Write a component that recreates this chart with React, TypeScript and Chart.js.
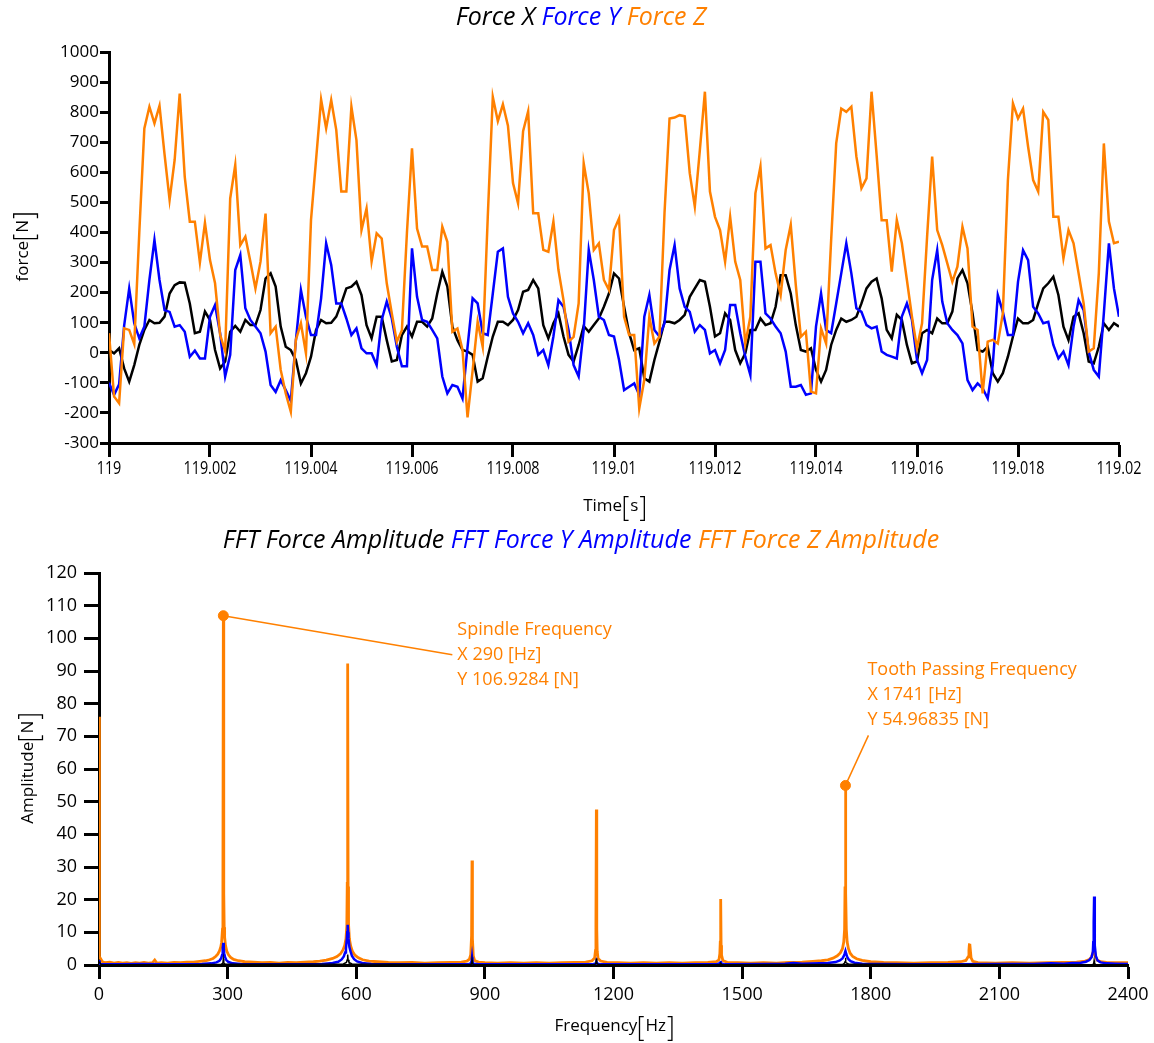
import React, { useEffect, useRef } from "react";
import { Chart, registerables } from "chart.js";

Chart.register(...registerables);

const ORANGE = "#ff8000";
const BLUE = "#0000ff";
const BLACK = "#000000";
const FONT = "'Open Sans', 'DejaVu Sans', sans-serif";

// ---------- time domain data (sampled every 0.1 ms from t = 119 s) ----------
const timeStart = 119;
const timeStep = 0.0001;

const forceX: number[] = [
  9, -2, 15, -52, -96, -41, 26, 76, 109, 98,
  100, 120, 197, 225, 234, 233, 164, 65, 70, 137,
  109, 9, -52, -29, 70, 89, 70, 109, 92, 92,
  142, 247, 264, 220, 87, 20, 9, -24, -102, -68,
  -13, 76, 109, 98, 100, 120, 164, 214, 220, 236,
  192, 92, 48, 120, 120, 42, -29, -24, 59, 87,
  54, 103, 103, 87, 114, 197, 269, 220, 87, 42,
  9, 4, -7, -96, -85, -13, 54, 103, 103, 92,
  109, 142, 203, 209, 242, 214, 92, 48, 98, 131,
  54, -7, -29, 26, 89, 70, 92, 114, 153, 197,
  264, 247, 153, 65, 9, 15, -85, -96, -24, 37,
  103, 103, 98, 109, 126, 186, 214, 242, 236, 153,
  54, 65, 131, 109, 9, -35, -2, 76, 76, 114,
  92, 98, 153, 258, 258, 197, 92, 9, 4, 15,
  -57, -96, -57, 26, 76, 114, 103, 109, 120, 164,
  214, 236, 247, 181, 76, 48, 126, 109, 26, -35,
  -29, 65, 76, 65, 114, 98, 98, 137, 247, 275,
  231, 131, 9, 4, 20, -68, -96, -68, -13, 54,
  114, 98, 98, 109, 164, 214, 231, 253, 192, 87,
  42, 120, 131, 65, -29, -35, 20, 98, 76, 98,
  87,
];

const forceY: number[] = [
  -100, -140, -105, 90, 214, 98, 48, 87, 242, 375,
  242, 142, 136, 87, 92, 70, -13, 7, -19, -19,
  120, 159, 65, -79, -7, 275, 325, 148, 109, 87,
  65, 4, -107, -130, -91, -124, -160, 40, 209, 120,
  59, 59, 181, 364, 292, 164, 164, 114, 59, 81,
  15, -2, -2, -41, 109, 170, 114, 20, -45, -45,
  347, 186, 109, 103, 76, 48, -79, -135, -107, -113,
  -152, 20, 181, 164, 65, 59, 197, 336, 347, 186,
  131, 103, 65, 98, 59, -7, 9, -41, 54, 175,
  153, 76, -41, -79, 76, 342, 242, 120, 109, 59,
  54, -24, -124, -113, -102, -140, 120, 192, 76, 54,
  98, 275, 358, 214, 153, 136, 70, 92, 76, -2,
  9, -35, 9, 159, 159, 65, -13, -74, 303, 303,
  131, 114, 87, 65, 4, -113, -113, -107, -140, -135,
  87, 197, 76, 65, 164, 264, 364, 264, 148, 136,
  92, 81, 87, 4, -7, -13, -19, 120, 164, 109,
  -24, -68, -24, 242, 341, 170, 98, 76, 59, 31,
  -91, -124, -102, -118, -152, -41, 192, 136, 59, 59,
  236, 341, 308, 153, 131, 98, 103, 26, -19, 4,
  -41, 87, 175, 142, 4, -57, -79, 131, 364, 214,
  120,
];

const forceZ: number[] = [
  65, -145, -168, 81, 76, 29, 400, 746, 818, 763,
  821, 660, 508, 641, 862, 585, 436, 436, 300, 432,
  308, 231, 60, 5, 513, 624, 358, 386, 303, 214,
  303, 463, 65, 87, -57, -135, -196, 43, 98, -2,
  441, 641, 842, 746, 840, 741, 536, 536, 818, 707,
  408, 480, 303, 397, 380, 231, 131, 37, 75, 400,
  680, 413, 353, 353, 275, 275, 419, 369, 70, 81,
  9, -215, -60, 103, 20, 450, 851, 770, 826, 755,
  564, 497, 737, 803, 464, 464, 342, 336, 436, 275,
  175, 37, 53, 164, 630, 530, 342, 364, 242, 209,
  408, 447, 120, 59, 59, -185, -90, 120, 31, 53,
  464, 779, 782, 790, 786, 597, 486, 674, 868, 536,
  452, 408, 303, 452, 303, 242, 30, 120, 530, 619,
  347, 358, 264, 192, 342, 425, 225, 53, 70, -129,
  -135, 81, 31, 375, 696, 812, 801, 818, 652, 547,
  580, 868, 658, 441, 441, 270, 441, 364, 242, 120,
  15, 98, 386, 652, 408, 358, 297, 236, 286, 419,
  347, 87, 76, -135, 37, 43, 31, 131, 574, 829,
  779, 812, 685, 574, 536, 801, 774, 452, 452, 314,
  408, 364, 264, 164, 4, 15, 264, 696, 436, 364,
  369,
];

const timeTicks = [119, 119.002, 119.004, 119.006, 119.008, 119.01, 119.012, 119.014, 119.016, 119.018, 119.02];
const timeTickLabels = ["119", "119.002", "119.004", "119.006", "119.008", "119.01", "119.012", "119.014", "119.016", "119.018", "119.02"];
const forceTicks = [-300, -200, -100, 0, 100, 200, 300, 400, 500, 600, 700, 800, 900, 1000];

// ---------- FFT data: [frequency Hz, amplitude N] ----------
const fftX: [number, number][] = [
  [0, 1], [5, 0.1], [200, 0.1], [285, 0.2], [289, 0.6], [290, 1.8], [291, 0.6], [295, 0.2],
  [570, 0.3], [577, 0.8], [579, 1.6], [580, 3.2], [581, 1.6], [583, 0.8], [590, 0.3],
  [866, 0.1], [869, 0.4], [870, 1.5], [871, 0.4], [875, 0.1],
  [1156, 0.1], [1159, 0.5], [1160, 2.0], [1161, 0.5], [1165, 0.1],
  [1448, 0.1], [1450, 0.6], [1452, 0.1],
  [1735, 0.2], [1739, 0.6], [1740, 1.0], [1741, 2.2], [1742, 1.0], [1743, 0.6], [1750, 0.2],
  [2318, 0.1], [2320, 0.5], [2321, 1.4], [2322, 0.5], [2325, 0.1], [2400, 0.1],
];

const fftY: [number, number][] = [
  [0, 1.5], [1, 0.3], [50, 0.2], [100, 0.3], [150, 0.2], [200, 0.2], [240, 0.3], [262, 0.5],
  [274, 0.8], [281, 1.3], [285, 2.1], [287, 3.0], [288, 3.8], [289, 5], [290, 6.8], [291, 5],
  [292, 3.6], [294, 2.4], [297, 1.5], [302, 0.9], [312, 0.5], [330, 0.3], [400, 0.2], [480, 0.2],
  [520, 0.3], [545, 0.6], [558, 1.0], [566, 1.7], [571, 2.6], [574, 3.8], [576, 5], [578, 8],
  [579, 10], [580, 12.3], [581, 10], [582, 8], [584, 5.5], [587, 4], [590, 2.8], [595, 1.8],
  [602, 1.1], [614, 0.6], [635, 0.3], [680, 0.2], [860, 0.2], [867, 0.5], [869, 1.2], [870, 2.4],
  [871, 1.1], [873, 0.4], [885, 0.2], [1150, 0.2], [1159, 0.5], [1160, 1.0], [1161, 0.5], [1170, 0.2],
  [1440, 0.2], [1449, 0.6], [1450, 1.2], [1451, 0.5], [1460, 0.2], [1560, 0.3], [1600, 0.4], [1620, 0.6],
  [1640, 0.4], [1680, 0.5], [1700, 0.6], [1718, 0.9], [1728, 1.4], [1734, 2.0], [1737, 2.7], [1739, 3.4],
  [1741, 4.3], [1743, 3.3], [1745, 2.5], [1748, 1.8], [1753, 1.2], [1762, 0.7], [1780, 0.4], [1820, 0.3],
  [1900, 0.2], [2000, 0.2], [2100, 0.3], [2180, 0.3], [2220, 0.5], [2250, 0.4], [2270, 0.6], [2290, 0.7],
  [2302, 1.0], [2310, 1.5], [2315, 2.4], [2318, 4], [2319, 7], [2320, 13], [2321, 21], [2322, 12],
  [2323, 6], [2325, 2.8], [2329, 1.4], [2336, 0.8], [2350, 0.5], [2370, 0.4], [2400, 0.3],
];

const fftZ: [number, number][] = [
  [0, 76], [1, 2.5], [8, 1.0], [15, 0.7], [25, 0.9], [35, 0.6], [45, 0.8], [55, 0.6], [65, 0.7],
  [75, 0.5], [85, 0.7], [95, 0.6], [105, 0.8], [115, 0.6], [125, 0.7], [130, 1.5], [135, 0.6],
  [145, 0.7], [160, 0.6], [175, 0.8], [190, 0.7], [205, 0.9], [220, 0.9], [235, 1.1], [248, 1.3],
  [258, 1.6], [266, 2.0], [272, 2.6], [277, 3.3], [281, 4.3], [284, 5.5], [286, 7], [288, 11],
  [289, 24], [290, 106.93], [291, 22], [292, 11.5], [293, 8.5], [295, 6], [298, 4.3], [302, 3.1],
  [307, 2.3], [314, 1.7], [325, 1.3], [340, 1.0], [360, 0.9], [380, 0.7], [400, 0.8], [420, 0.6],
  [440, 0.8], [460, 0.7], [480, 0.9], [500, 1.0], [515, 1.2], [530, 1.5], [545, 2.0], [555, 2.6],
  [563, 3.4], [569, 4.6], [573, 6], [576, 8], [578, 12], [579, 25], [580, 92.3], [581, 24],
  [582, 12.5], [584, 8], [587, 5.8], [591, 4.2], [597, 3.0], [605, 2.2], [615, 1.6], [630, 1.2],
  [650, 1.0], [675, 0.8], [700, 0.7], [730, 0.8], [760, 0.6], [790, 0.7], [820, 0.8], [845, 0.9],
  [858, 1.2], [864, 1.8], [867, 3.2], [869, 9], [870, 32], [871, 8], [873, 2.8], [876, 1.4],
  [885, 0.9], [900, 0.7], [930, 0.6], [960, 0.7], [990, 0.6], [1020, 0.7], [1050, 0.6], [1080, 0.7],
  [1110, 0.8], [1135, 0.9], [1150, 1.3], [1156, 2.2], [1158, 4.5], [1159, 12], [1160, 47.6], [1161, 11],
  [1162, 4.2], [1164, 2.0], [1170, 1.2], [1185, 0.8], [1210, 0.7], [1240, 0.6], [1270, 0.7], [1300, 0.6],
  [1330, 0.7], [1360, 0.6], [1390, 0.7], [1420, 0.8], [1440, 1.0], [1446, 1.6], [1448, 3.5], [1449, 7],
  [1450, 20.2], [1451, 6], [1452, 3], [1455, 1.4], [1465, 0.8], [1490, 0.7], [1520, 0.6], [1550, 0.7],
  [1580, 0.6], [1610, 0.8], [1640, 0.9], [1665, 1.1], [1685, 1.3], [1700, 1.6], [1712, 2.1], [1722, 2.8],
  [1729, 3.7], [1734, 5], [1737, 7], [1739, 11], [1740, 24], [1741, 54.97], [1742, 22], [1743, 11],
  [1745, 7], [1748, 5], [1752, 3.6], [1758, 2.6], [1767, 1.9], [1780, 1.4], [1800, 1.0], [1830, 0.8],
  [1860, 0.7], [1900, 0.6], [1940, 0.7], [1980, 0.8], [2010, 1.0], [2022, 1.4], [2027, 2.5], [2029, 4.5],
  [2030, 6.2], [2031, 6.5], [2032, 5], [2034, 2.2], [2038, 1.1], [2050, 0.7], [2090, 0.6], [2130, 0.7],
  [2170, 0.6], [2210, 0.7], [2250, 0.8], [2280, 0.9], [2300, 1.2], [2310, 1.7], [2315, 2.5], [2318, 3.6],
  [2320, 4.8], [2321, 5.2], [2322, 4.4], [2324, 2.6], [2328, 1.5], [2336, 1.0], [2350, 0.8], [2375, 0.7],
  [2400, 0.7],
];

const freqTicks = [0, 300, 600, 900, 1200, 1500, 1800, 2100, 2400];
const freqTickLabels = ["0", "300", "600", "900", "1200", "1500", "1800", "2100", "2400"];
const ampTicks = [0, 10, 20, 30, 40, 50, 60, 70, 80, 90, 100, 110, 120];

// ---------- annotated peaks ----------
const peakFreq = [290, 1741];
const peakAmp = [106.9284, 54.96835];
const peakText = [
  ["Spindle Frequency", "X 290 [Hz]", "Y 106.9284 [N]"],
  ["Tooth Passing Frequency", "X 1741 [Hz]", "Y 54.96835 [N]"],
];

const topTitle = [
  { text: "Force X", color: BLACK },
  { text: "Force Y", color: BLUE },
  { text: "Force Z", color: ORANGE },
];
const bottomTitle = [
  { text: "FFT Force Amplitude", color: BLACK },
  { text: "FFT Force Y Amplitude", color: BLUE },
  { text: "FFT Force Z Amplitude", color: ORANGE },
];

// ---------- drawing helpers ----------
function drawUnitLabel(ctx: CanvasRenderingContext2D, name: string, unit: string, cx: number, cy: number, rotate: boolean, sx: number, size: number) {
  ctx.save();
  ctx.translate(cx, cy);
  if (rotate) ctx.rotate(-Math.PI / 2);
  ctx.scale(sx, 1);
  ctx.font = `${size}px ${FONT}`;
  ctx.fillStyle = "#000";
  ctx.strokeStyle = "#000";
  ctx.lineWidth = 1.3;
  ctx.textAlign = "left";
  ctx.textBaseline = "alphabetic";
  const wn = ctx.measureText(name).width;
  const wu = ctx.measureText(unit).width;
  const bw = size * 0.28;
  const gap = size * 0.1;
  const total = wn + gap + bw + gap + wu + gap + bw;
  const base = size * 0.36;
  const top = base - size * 0.85;
  const bot = base + size * 0.55;
  let x = -total / 2;
  ctx.fillText(name, x, base);
  x += wn + gap;
  ctx.beginPath();
  ctx.moveTo(x + bw, top);
  ctx.lineTo(x + 0.5, top);
  ctx.lineTo(x + 0.5, bot);
  ctx.lineTo(x + bw, bot);
  ctx.stroke();
  x += bw + gap;
  ctx.fillText(unit, x, base);
  x += wu + gap;
  ctx.beginPath();
  ctx.moveTo(x, top);
  ctx.lineTo(x + bw - 0.5, top);
  ctx.lineTo(x + bw - 0.5, bot);
  ctx.lineTo(x, bot);
  ctx.stroke();
  ctx.restore();
}

type Seg = { text: string; color: string };

interface DecorCfg {
  title: Seg[];
  titleCy: number;
  titleSize: number;
  xTicks: number[];
  xTickLabels: string[];
  xTickCy: number;
  xTickSize: number;
  xTickSx: number;
  xName: string;
  xUnit: string;
  xTitleCy: number;
  yName: string;
  yUnit: string;
  yTitleCx: number;
  annotate: boolean;
}

function makeDecor(cfg: DecorCfg) {
  return {
    id: "decor",
    afterDraw(chart: any) {
      const ctx: CanvasRenderingContext2D = chart.ctx;
      const xs = chart.scales.x;
      const ys = chart.scales.y;
      const area = chart.chartArea;

      // coloured title
      ctx.save();
      ctx.font = `italic ${cfg.titleSize}px ${FONT}`;
      ctx.textBaseline = "middle";
      ctx.textAlign = "left";
      const sp = ctx.measureText(" ").width;
      const ws = cfg.title.map((s) => ctx.measureText(s.text).width);
      const total = ws.reduce((a, b) => a + b, 0) + sp * (ws.length - 1);
      let tx = chart.width / 2 + 4 - total / 2;
      cfg.title.forEach((s, i) => {
        ctx.fillStyle = s.color;
        ctx.fillText(s.text, tx, cfg.titleCy);
        tx += ws[i] + sp;
      });
      ctx.restore();

      // x tick labels
      ctx.save();
      ctx.font = `${cfg.xTickSize}px ${FONT}`;
      ctx.fillStyle = "#000";
      ctx.textAlign = "center";
      ctx.textBaseline = "middle";
      cfg.xTicks.forEach((v, i) => {
        const px = xs.getPixelForValue(v);
        ctx.save();
        ctx.translate(px, cfg.xTickCy);
        ctx.scale(cfg.xTickSx, 1);
        ctx.fillText(cfg.xTickLabels[i], 0, 0);
        ctx.restore();
      });
      ctx.restore();

      // axis titles
      drawUnitLabel(ctx, cfg.xName, cfg.xUnit, (area.left + area.right) / 2, cfg.xTitleCy, false, 1, 17);
      drawUnitLabel(ctx, cfg.yName, cfg.yUnit, cfg.yTitleCx, (area.top + area.bottom) / 2, true, 1, 17);

      // peak annotations
      if (cfg.annotate) {
        const offsets = [
          { lx: 229, ly: 39, tx: 234, ty: 14 },
          { lx: 23, ly: -50, tx: 22, ty: -116 },
        ];
        ctx.save();
        ctx.strokeStyle = ORANGE;
        ctx.fillStyle = ORANGE;
        ctx.lineWidth = 1.5;
        ctx.font = `18px ${FONT}`;
        ctx.textAlign = "left";
        ctx.textBaseline = "middle";
        peakFreq.forEach((f, i) => {
          const px = xs.getPixelForValue(f);
          const py = ys.getPixelForValue(peakAmp[i]);
          const o = offsets[i];
          ctx.beginPath();
          ctx.moveTo(px, py);
          ctx.lineTo(px + o.lx, py + o.ly);
          ctx.stroke();
          peakText[i].forEach((line, j) => {
            ctx.fillText(line, px + o.tx, py + o.ty + j * 25);
          });
        });
        ctx.restore();
      }
    },
  };
}

function axisStyle(tickLength: number) {
  return {
    grid: { display: true, drawOnChartArea: false, drawTicks: true, tickLength, tickWidth: 3, tickColor: "#000" },
    border: { display: true, color: "#000", width: 3 },
  };
}

export default function App() {
  const topRef = useRef<HTMLCanvasElement>(null);
  const botRef = useRef<HTMLCanvasElement>(null);

  useEffect(() => {
    const series = (vals: number[]) => vals.map((v, i) => ({ x: timeStart + i * timeStep, y: v }));
    const pairs = (arr: [number, number][]) => arr.map(([x, y]) => ({ x, y }));

    const top = new Chart(topRef.current as HTMLCanvasElement, {
      type: "line",
      data: {
        datasets: [
          { label: "Force Z", data: series(forceZ), borderColor: ORANGE, borderWidth: 2.5, pointRadius: 0, order: 0 },
          { label: "Force Y", data: series(forceY), borderColor: BLUE, borderWidth: 2.5, pointRadius: 0, order: 1 },
          { label: "Force X", data: series(forceX), borderColor: BLACK, borderWidth: 2.5, pointRadius: 0, order: 2 },
        ],
      },
      options: {
        responsive: false,
        animation: false,
        events: [],
        layout: { padding: { left: 0, top: 52, right: 35, bottom: 0 } },
        plugins: { legend: { display: false }, tooltip: { enabled: false }, title: { display: false } },
        scales: {
          x: {
            type: "linear",
            min: 119,
            max: 119.02,
            ticks: { display: false },
            afterBuildTicks: (s: any) => { s.ticks = timeTicks.map((v) => ({ value: v })); },
            afterFit: (s: any) => { s.height = 82; },
            ...axisStyle(14),
          },
          y: {
            type: "linear",
            min: -300,
            max: 1000,
            ticks: { color: "#000", font: { family: FONT, size: 17 }, padding: 1, callback: (v: any) => String(v) },
            afterBuildTicks: (s: any) => { s.ticks = forceTicks.map((v) => ({ value: v })); },
            afterFit: (s: any) => { s.width = 109; },
            ...axisStyle(9),
          },
        },
      } as any,
      plugins: [
        makeDecor({
          title: topTitle, titleCy: 18, titleSize: 25,
          xTicks: timeTicks, xTickLabels: timeTickLabels, xTickCy: 469, xTickSize: 18, xTickSx: 0.8,
          xName: "Time", xUnit: "s", xTitleCy: 505,
          yName: "force", yUnit: "N", yTitleCx: 22,
          annotate: false,
        }),
      ],
    });

    const bot = new Chart(botRef.current as HTMLCanvasElement, {
      type: "line",
      data: {
        datasets: [
          { label: "Peaks", data: peakFreq.map((f, i) => ({ x: f, y: peakAmp[i] })), showLine: false, pointRadius: 5, pointBackgroundColor: ORANGE, pointBorderColor: ORANGE, order: -1 },
          { label: "FFT Force Amplitude", data: pairs(fftX), borderColor: BLACK, borderWidth: 1.5, pointRadius: 0, order: 0 },
          { label: "FFT Force Y Amplitude", data: pairs(fftY), borderColor: BLUE, borderWidth: 2.5, pointRadius: 0, order: 1 },
          { label: "FFT Force Z Amplitude", data: pairs(fftZ), borderColor: ORANGE, borderWidth: 2.8, pointRadius: 0, order: 2 },
        ],
      },
      options: {
        responsive: false,
        animation: false,
        events: [],
        layout: { padding: { left: 0, top: 48, right: 26, bottom: 0 } },
        plugins: { legend: { display: false }, tooltip: { enabled: false }, title: { display: false } },
        scales: {
          x: {
            type: "linear",
            min: 0,
            max: 2400,
            z: 1,
            ticks: { display: false },
            afterBuildTicks: (s: any) => { s.ticks = freqTicks.map((v) => ({ value: v })); },
            afterFit: (s: any) => { s.height = 78; },
            ...axisStyle(14),
          },
          y: {
            type: "linear",
            min: 0,
            max: 120,
            z: 1,
            ticks: { color: "#000", font: { family: FONT, size: 18 }, padding: 7, callback: (v: any) => String(v) },
            afterBuildTicks: (s: any) => { s.ticks = ampTicks.map((v) => ({ value: v })); },
            afterFit: (s: any) => { s.width = 99; },
            ...axisStyle(15),
          },
        },
      } as any,
      plugins: [
        makeDecor({
          title: bottomTitle, titleCy: 16, titleSize: 25,
          xTicks: freqTicks, xTickLabels: freqTickLabels, xTickCy: 470, xTickSize: 18, xTickSx: 1,
          xName: "Frequency", xUnit: "Hz", xTitleCy: 500,
          yName: "Amplitude", yUnit: "N", yTitleCx: 27,
          annotate: true,
        }),
      ],
    });

    return () => {
      top.destroy();
      bot.destroy();
    };
  }, []);

  return (
    <div style={{ position: "absolute", left: 0, top: 0, width: 1154, height: 1043, background: "#fff" }}>
      <canvas ref={topRef} width={1154} height={525} style={{ position: "absolute", left: 0, top: 0 }} />
      <canvas ref={botRef} width={1154} height={518} style={{ position: "absolute", left: 0, top: 525 }} />
    </div>
  );
}
